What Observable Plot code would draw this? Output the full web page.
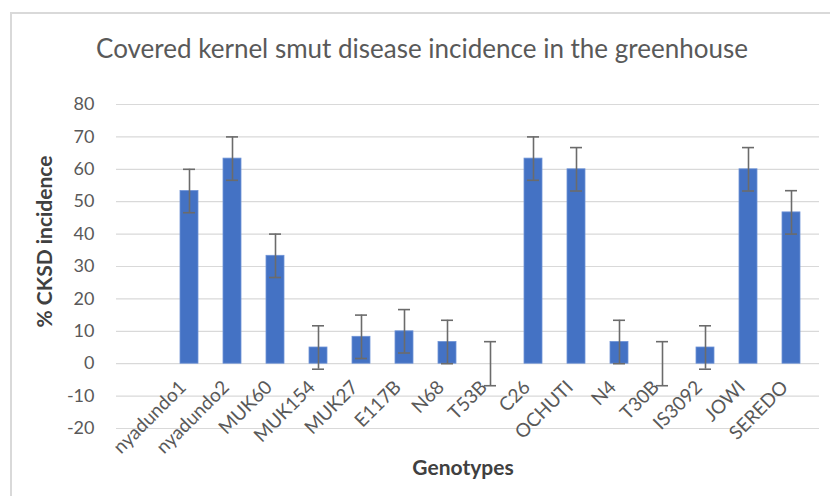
<!DOCTYPE html>
<html>
<head>
<meta charset="utf-8">
<script src="https://cdn.jsdelivr.net/npm/d3@7"></script>
<script src="https://cdn.jsdelivr.net/npm/@observablehq/plot@0.6"></script>
<style>
  html, body { margin: 0; padding: 0; background: #fff; overflow: hidden; }
  #wrap { position: relative; width: 830px; height: 496px; overflow: hidden; font-family: Lato, "Open Sans", sans-serif; }
  #border { position: absolute; left: 10px; top: 12px; width: 900px; height: 600px; border: 2px solid #d9d9d9; box-sizing: border-box; }
  #title { position: absolute; left: 0; top: 31px; width: 844px; text-align: center; font-size: 26px; color: #595959; line-height: 34px; }
  #chart { position: absolute; left: 0; top: 0; }
</style>
</head>
<body>
<div id="wrap">
  <div id="border"></div>
  <div id="chart"></div>
  <div id="title">Covered kernel smut disease incidence in the greenhouse</div>
</div>
<script>
const genotypes = ["nyadundo1", "nyadundo2", "MUK60", "MUK154", "MUK27", "E117B", "N68", "T53B", "C26", "OCHUTI", "N4", "T30B", "IS3092", "JOWI", "SEREDO"];
const incidence = [53.3, 63.3, 33.3, 5.0, 8.3, 10.0, 6.7, 0.0, 63.3, 60.0, 6.7, 0.0, 5.0, 60.0, 46.7];
const stdError = [6.7, 6.7, 6.7, 6.7, 6.7, 6.7, 6.7, 6.8, 6.7, 6.7, 6.7, 6.8, 6.7, 6.7, 6.7];
const yTicks = [-20, -10, 0, 10, 20, 30, 40, 50, 60, 70, 80];
const yLabel = "% CKSD incidence";
const xLabel = "Genotypes";

const data = genotypes.map((g, i) => ({ g, v: incidence[i], e: stdError[i] }));

const chart = Plot.plot({
  width: 830,
  height: 496,
  marginLeft: 116,
  marginRight: 11,
  marginTop: 104,
  marginBottom: 68,
  style: { fontFamily: "Lato, 'Open Sans', sans-serif", color: "#595959", background: "transparent" },
  x: { type: "band", domain: genotypes, range: [160, 819], paddingInner: 0.59, paddingOuter: 0.295, axis: null },
  y: { domain: [-20, 80], ticks: yTicks, axis: null },
  marks: [
    Plot.ruleY(yTicks, { stroke: "#d9d9d9", strokeWidth: 1.2 }),
    Plot.axisY({ ticks: yTicks, tickSize: 0, tickPadding: 22, fontSize: 18, label: null, fill: "#595959", tickFormat: d => String(d) }),
    Plot.barY(data, { x: "g", y: "v", fill: "#4472C4", stroke: "#6f93d6", strokeWidth: 0.8 }),
    Plot.ruleX(data, { x: "g", y1: d => d.v - d.e, y2: d => d.v + d.e, stroke: "#6b6b6b", strokeWidth: 1.6 }),
    Plot.tickY(data, { x: "g", y: d => d.v + d.e, stroke: "#6b6b6b", strokeWidth: 1.6, insetLeft: 3, insetRight: 3 }),
    Plot.tickY(data, { x: "g", y: d => d.v - d.e, stroke: "#6b6b6b", strokeWidth: 1.6, insetLeft: 3, insetRight: 3 }),
    Plot.text(genotypes, { x: d => d, y: 0, rotate: -45, textAnchor: "end", dx: -6.5, dy: 20.5, fontSize: 19, fill: "#595959" }),
    Plot.text([yLabel], { frameAnchor: "left", textAnchor: "middle", rotate: -90, dx: -71, dy: -25, fontSize: 21, fontWeight: "bold", fill: "#404040" }),
    Plot.text([xLabel], { frameAnchor: "bottom", textAnchor: "middle", dx: -5, dy: 46, fontSize: 21, fontWeight: "bold", fill: "#404040" })
  ]
});
document.getElementById("chart").appendChild(chart);
</script>
</body>
</html>
